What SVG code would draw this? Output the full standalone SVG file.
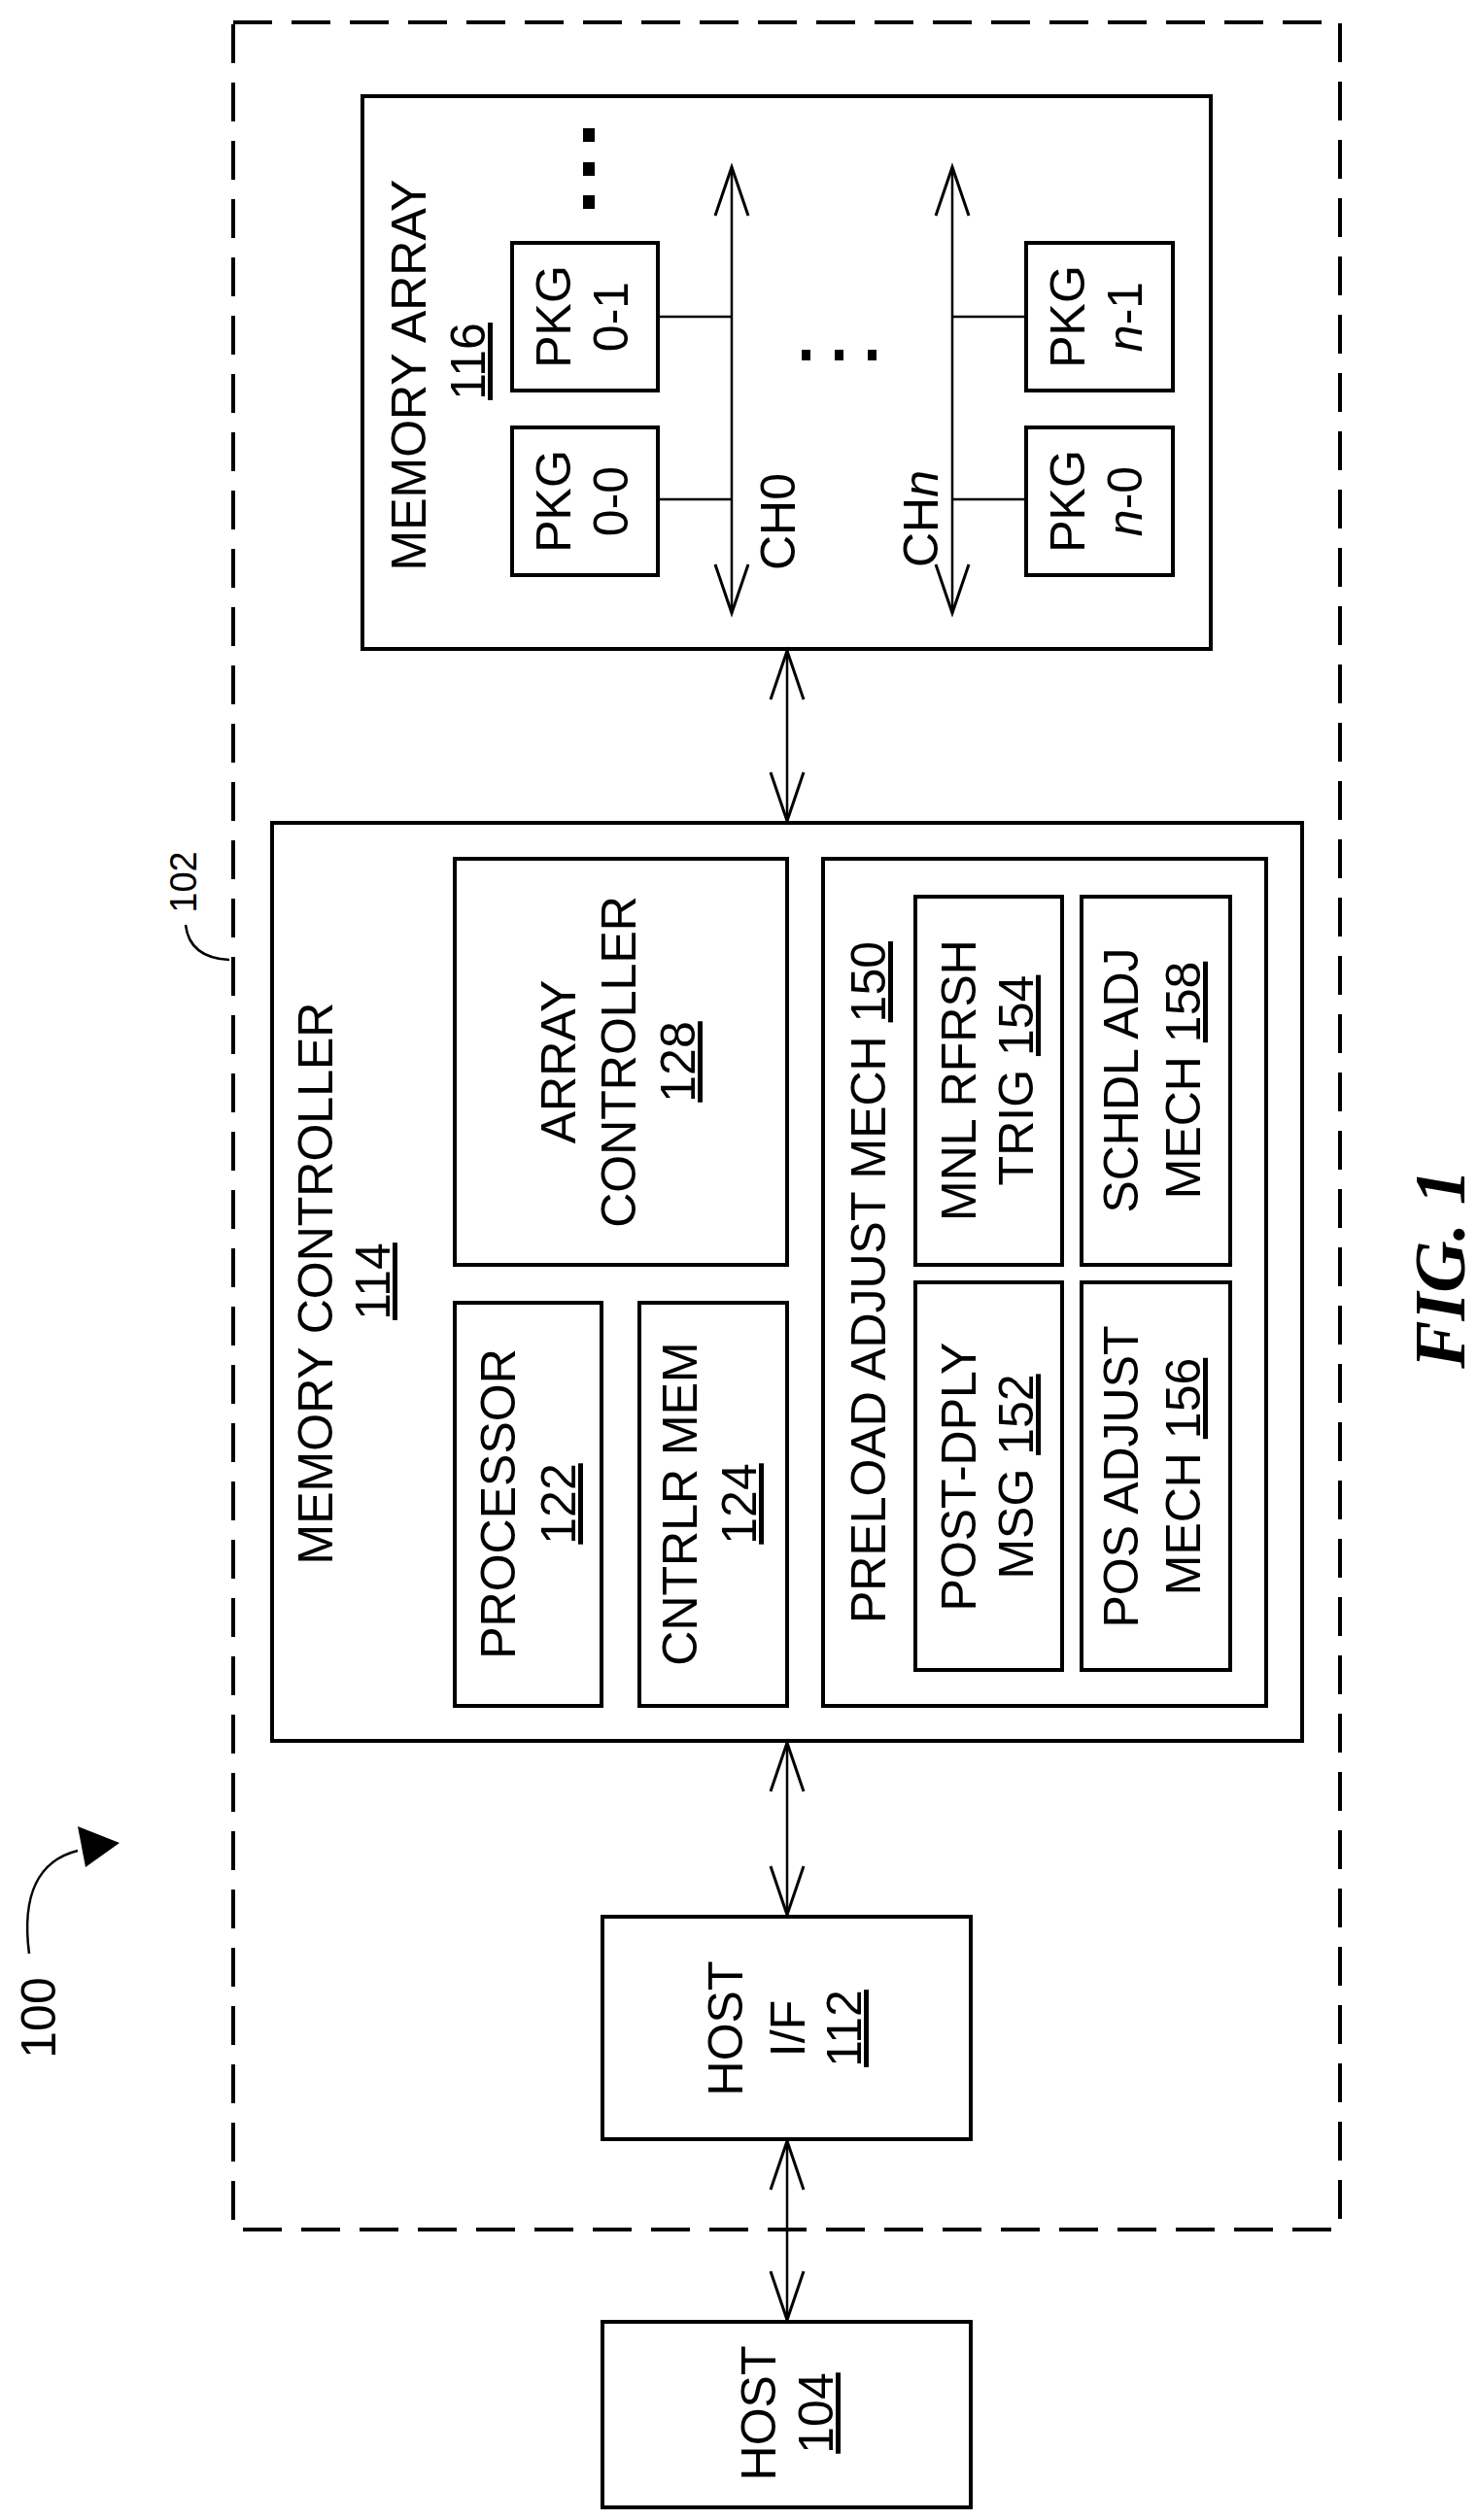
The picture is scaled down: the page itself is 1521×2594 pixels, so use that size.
<svg xmlns="http://www.w3.org/2000/svg" width="1521" height="2594" viewBox="0 0 1521 2594">
<style>
.b{fill:#fff;stroke:#000;stroke-width:4}
.t{font-family:"Liberation Sans",Arial,sans-serif;font-size:50px;text-anchor:middle;fill:#000}
.c{stroke:#000;stroke-width:2.5;fill:none}
.u{text-decoration:underline}
</style>
<defs>
<marker id="a" markerUnits="userSpaceOnUse" markerWidth="60" markerHeight="40" viewBox="-55 -20 60 40" refX="0" refY="0" orient="auto-start-reverse">
<path d="M-50,-17 L0,0 L-50,17" fill="none" stroke="#000" stroke-width="3"/>
</marker>
</defs>
<rect id="sys102" x="240" y="23" width="1139" height="2272" fill="none" stroke="#000" stroke-width="4" stroke-dasharray="40 20"/>
<g id="mem116">
<rect class="b" x="373" y="99" width="873" height="569"/>
<text class="t" transform="translate(420,386) rotate(-90)" y="18">MEMORY ARRAY</text>
<text class="t" transform="translate(481,372) rotate(-90)" y="18"><tspan class="u">116</tspan></text>
<rect x="600" y="132" width="12" height="14"/><rect x="600" y="167" width="12" height="14"/><rect x="600" y="201" width="12" height="14"/>
<rect x="825" y="360" width="9" height="11"/><rect x="859" y="360" width="9" height="11"/><rect x="893" y="360" width="9" height="11"/>
</g>
<g id="pkg01"><rect class="b" x="527" y="250" width="150" height="152"/>
<text class="t" transform="translate(569,326) rotate(-90)" y="18">PKG</text>
<text class="t" transform="translate(628,326) rotate(-90)" y="18">0-1</text></g>
<g id="pkg00"><rect class="b" x="527" y="440" width="150" height="152"/>
<text class="t" transform="translate(569,516) rotate(-90)" y="18">PKG</text>
<text class="t" transform="translate(628,516) rotate(-90)" y="18">0-0</text></g>
<g id="pkgn1"><rect class="b" x="1056" y="250" width="151" height="152"/>
<text class="t" transform="translate(1098,326) rotate(-90)" y="18">PKG</text>
<text class="t" transform="translate(1157,326) rotate(-90)" y="18"><tspan font-style="italic">n</tspan>-1</text></g>
<g id="pkgn0"><rect class="b" x="1056" y="440" width="151" height="152"/>
<text class="t" transform="translate(1098,516) rotate(-90)" y="18">PKG</text>
<text class="t" transform="translate(1157,516) rotate(-90)" y="18"><tspan font-style="italic">n</tspan>-0</text></g>
<g id="ch0"><text class="t" transform="translate(800,537) rotate(-90)" y="18">CH0</text></g>
<g id="chn"><text class="t" transform="translate(947,534) rotate(-90)" y="18">CH<tspan font-style="italic">n</tspan></text></g>
<g id="mc114">
<rect class="b" x="280" y="847" width="1060" height="945"/>
<text class="t" transform="translate(324,1321) rotate(-90)" y="18">MEMORY CONTROLLER</text>
<text class="t" transform="translate(383,1319) rotate(-90)" y="18"><tspan class="u">114</tspan></text>
</g>
<g id="ac128"><rect class="b" x="468" y="884" width="342" height="418"/>
<text class="t" transform="translate(574,1093) rotate(-90)" y="18">ARRAY</text>
<text class="t" transform="translate(636,1093) rotate(-90)" y="18">CONTROLLER</text>
<text class="t" transform="translate(697,1093) rotate(-90)" y="18"><tspan class="u">128</tspan></text></g>
<g id="p122"><rect class="b" x="468" y="1341" width="151" height="415"/>
<text class="t" transform="translate(512,1548) rotate(-90)" y="18">PROCESSOR</text>
<text class="t" transform="translate(574,1548) rotate(-90)" y="18"><tspan class="u">122</tspan></text></g>
<g id="cm124"><rect class="b" x="658" y="1341" width="152" height="415"/>
<text class="t" transform="translate(699,1548) rotate(-90)" y="18">CNTRLR MEM</text>
<text class="t" transform="translate(760,1548) rotate(-90)" y="18"><tspan class="u">124</tspan></text></g>
<g id="pa150"><rect class="b" x="847" y="884" width="456" height="872"/>
<text class="t" transform="translate(893,1320) rotate(-90)" y="18">PRELOAD ADJUST MECH  <tspan class="u">150</tspan></text></g>
<g id="m154"><rect class="b" x="942" y="923" width="151" height="379"/>
<text class="t" transform="translate(986,1112) rotate(-90)" y="18">MNL RFRSH</text>
<text class="t" transform="translate(1045,1112) rotate(-90)" y="18">TRIG  <tspan class="u">154</tspan></text></g>
<g id="s158"><rect class="b" x="1113" y="923" width="153" height="379"/>
<text class="t" transform="translate(1153,1112) rotate(-90)" y="18">SCHDL ADJ</text>
<text class="t" transform="translate(1217,1112) rotate(-90)" y="18">MECH  <tspan class="u">158</tspan></text></g>
<g id="pd152"><rect class="b" x="942" y="1320" width="151" height="399"/>
<text class="t" transform="translate(986,1520) rotate(-90)" y="18">POST-DPLY</text>
<text class="t" transform="translate(1045,1520) rotate(-90)" y="18">MSG  <tspan class="u">152</tspan></text></g>
<g id="pos156"><rect class="b" x="1113" y="1320" width="153" height="399"/>
<text class="t" transform="translate(1153,1520) rotate(-90)" y="18">POS ADJUST</text>
<text class="t" transform="translate(1217,1520) rotate(-90)" y="18">MECH  <tspan class="u">156</tspan></text></g>
<g id="hif112"><rect class="b" x="620" y="1973" width="379" height="229"/>
<text class="t" transform="translate(746,2088) rotate(-90)" y="18">HOST</text>
<text class="t" transform="translate(810,2088) rotate(-90)" y="18">I/F</text>
<text class="t" transform="translate(868,2088) rotate(-90)" y="18"><tspan class="u">112</tspan></text></g>
<g id="host104"><rect class="b" x="620" y="2390" width="379" height="191"/>
<text class="t" transform="translate(780,2484) rotate(-90)" y="18">HOST</text>
<text class="t" transform="translate(839,2484) rotate(-90)" y="18"><tspan class="u">104</tspan></text></g>
<g id="labels">
<text class="t" style="font-size:38px" transform="translate(188,908) rotate(-90)" y="14">102</text>
<path class="c" d="M191,952 Q195,986 236,988"/>
<text class="t" transform="translate(39,2077) rotate(-90)" y="18">100</text>
<path class="c" d="M30,2011 C22,1950 40,1915 80,1905" stroke-width="3"/>
<path d="M123,1897 L80,1880 L88,1922 Z" fill="#000"/>
<text transform="translate(1482,1306) rotate(-90)" y="25" font-family="'Liberation Serif',serif" font-size="74" font-weight="bold" font-style="italic" text-anchor="middle">FIG. 1</text>
</g>
<g id="connectors">
<line class="c" x1="753" y1="172" x2="753" y2="631" marker-start="url(#a)" marker-end="url(#a)"/>
<line class="c" x1="980" y1="172" x2="980" y2="631" marker-start="url(#a)" marker-end="url(#a)"/>
<line class="c" stroke-width="4" x1="677" y1="326" x2="753" y2="326"/>
<line class="c" stroke-width="4" x1="677" y1="514" x2="753" y2="514"/>
<line class="c" stroke-width="4" x1="980" y1="326" x2="1056" y2="326"/>
<line class="c" stroke-width="4" x1="980" y1="514" x2="1056" y2="514"/>
<line class="c" x1="810" y1="670" x2="810" y2="845" marker-start="url(#a)" marker-end="url(#a)"/>
<line class="c" x1="810" y1="1794" x2="810" y2="1971" marker-start="url(#a)" marker-end="url(#a)"/>
<line class="c" x1="810" y1="2204" x2="810" y2="2388" marker-start="url(#a)" marker-end="url(#a)"/>
</g>
</svg>
